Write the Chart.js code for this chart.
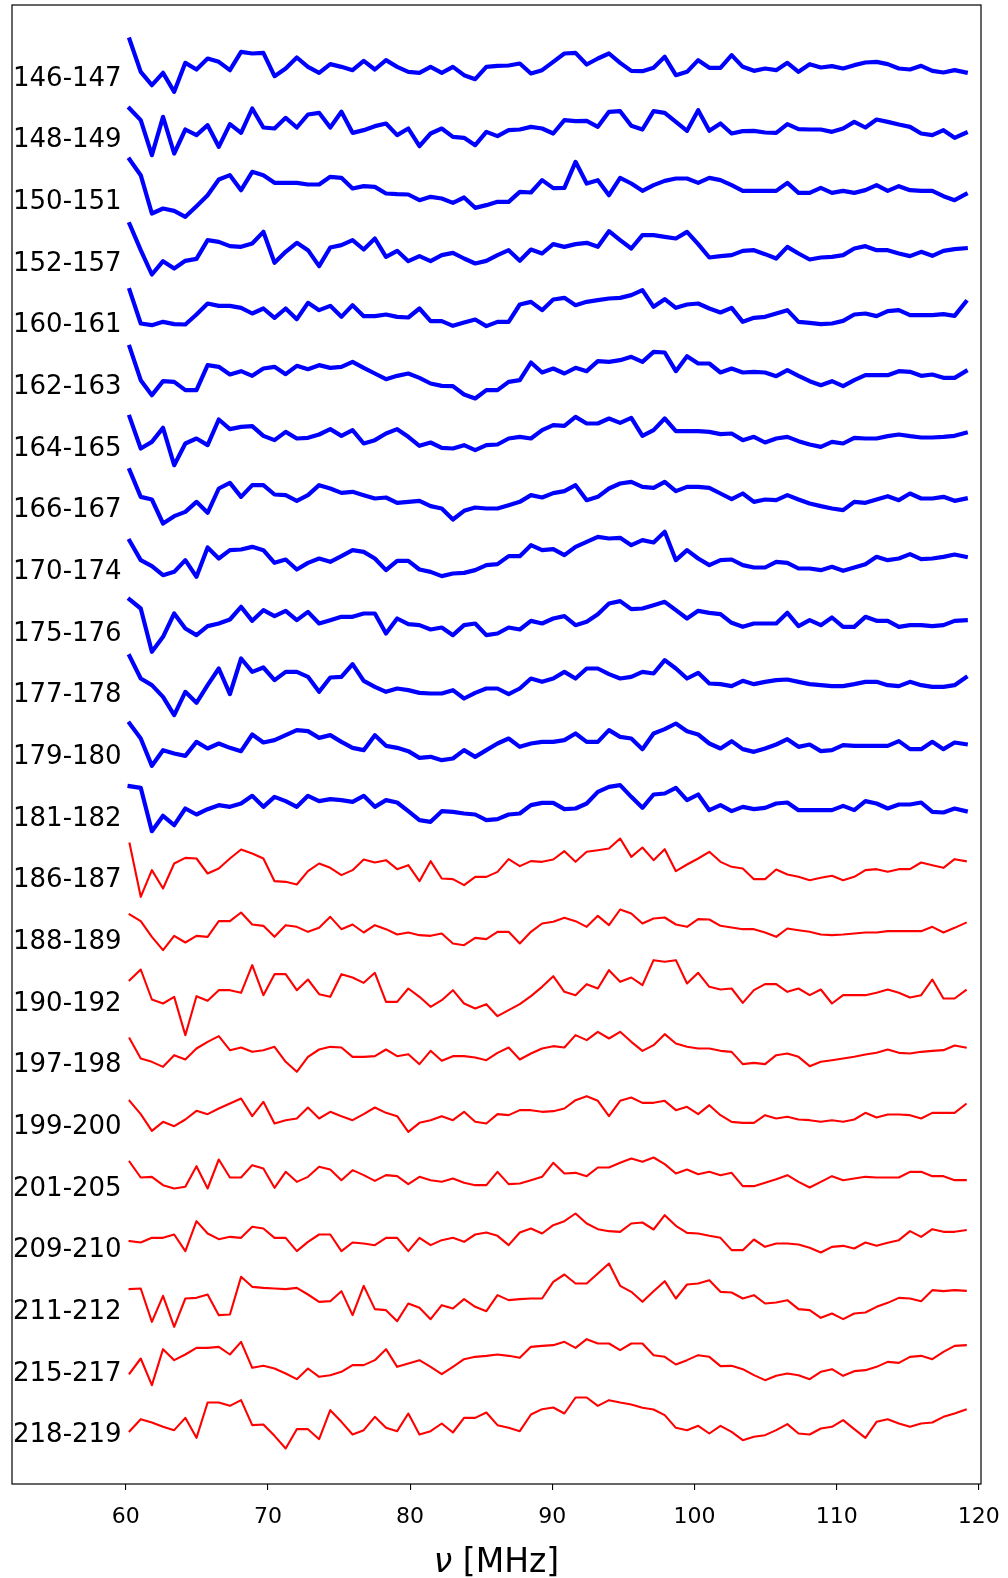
<!DOCTYPE html>
<html>
<head>
<meta charset="utf-8">
<script src="https://cdn.jsdelivr.net/npm/chart.js@4.4.1/dist/chart.umd.min.js"></script>
<style>
  html, body { margin: 0; padding: 0; background: #ffffff; }
  #wrap { width: 1008px; height: 1578px; }
</style>
</head>
<body>
<div id="wrap"><canvas id="chart" width="1008" height="1578"></canvas></div>
<script>
// Band labels, top to bottom
const bands = ['146-147', '148-149', '150-151', '152-157', '160-161', '162-163', '164-165',
  '166-167', '170-174', '175-176', '177-178', '179-180', '181-182', '186-187', '188-189',
  '190-192', '197-198', '199-200', '201-205', '209-210', '211-212', '215-217', '218-219'];

// Frequency grid of the spectra (MHz)
const FREQ_START = 60.27;
const FREQ_STEP = 0.7841;

// x-axis tick values (MHz)
const freqTicks = [60, 70, 80, 90, 100, 110, 120];

// Spectra per band (relative amplitude, one value per channel)
const b146_147 = [10.8, 1.1, -2.9, 0.8, -4.9, 3.8, 1.8, 5.1, 4.1, 1.6, 7.1, 6.6, 6.8, -0.2, 2.1, 5.4, 2.6, 0.8, 3.4, 2.6, 1.6, 4.4, 1.8, 4.6, 2.6, 1.1, 0.8, 2.6, 0.8, 2.6, 0.1, -1.1, 2.6, 2.9, 3.0, 3.6, 0.6, 1.6, 4.1,
  6.6, 6.8, 3.3, 5.1, 6.6, 3.8, 1.4, 1.3, 2.3, 5.6, 0.1, 1.1, 4.6, 2.3, 2.3, 6.1, 2.6, 1.4, 2.1, 1.6, 3.8, 1.1, 3.4, 2.4, 2.8, 2.1, 3.1, 3.9, 4.1, 3.4, 2.1, 1.8, 2.9, 1.4, 0.9, 1.6, 0.9];
const b148_149 = [8.6, 5.1, -5.4, 6.1, -4.9, 2.3, 0.6, 3.6, -2.9, 3.9, 1.3, 8.6, 2.9, 2.6, 5.8, 2.9, 6.8, 7.3, 2.9, 7.6, 1.3, 2.1, 3.3, 4.1, 0.6, 2.6, -2.7, 1.1, 2.6, 0.1, -0.2, -2.4, 1.6, 0.3, 2.1, 2.3, 3.1, 2.6, 1.1,
  5.1, 4.8, 4.9, 3.1, 7.6, 7.8, 3.4, 2.3, 7.8, 7.3, 4.6, 1.9, 8.1, 1.9, 4.1, 1.1, 1.8, 1.9, 1.4, 1.3, 3.9, 2.4, 2.3, 2.3, 1.6, 2.6, 4.6, 2.9, 5.3, 4.6, 3.8, 3.1, 1.1, 0.6, 2.1, -0.2, 1.3];
const b150_151 = [11.8, 7.1, -4.4, -2.9, -3.6, -5.4, -2.2, 1.1, 5.8, 7.1, 2.6, 8.1, 7.1, 4.8, 4.8, 4.8, 4.3, 4.3, 6.6, 6.3, 3.1, 3.8, 3.6, 1.6, 1.4, 1.3, -0.4, 0.6, 0.1, -1.2, 0.4, -2.7, -1.9, -0.9, -0.9, 2.1, 1.9, 5.6, 3.2,
  3.3, 11.1, 4.6, 5.6, 1.1, 6.3, 4.6, 2.4, 4.1, 5.4, 6.1, 6.1, 4.8, 6.3, 5.6, 4.1, 2.4, 2.4, 2.4, 2.4, 4.8, 1.8, 1.8, 3.3, 1.8, 2.4, 1.8, 2.6, 4.1, 2.4, 3.8, 2.6, 2.4, 2.4, 0.8, -0.4, 1.4];
const b152_157 = [10.9, 3.1, -4.2, -0.2, -2.4, -0.1, 0.5, 6.1, 5.6, 4.3, 4.1, 5.1, 8.6, -0.7, 2.6, 5.3, 3.1, -1.7, 3.9, 4.6, 6.1, 3.3, 6.6, 1.1, 2.9, -0.2, 1.3, -0.2, 1.6, 2.3, 0.6, -0.9, -0.1, 1.6, 3.1, -0.1, 3.3, 2.1, 4.9,
  4.1, 4.9, 5.3, 4.1, 8.8, 6.1, 3.6, 7.6, 7.6, 7.1, 6.6, 8.6, 4.9, 0.9, 1.3, 1.6, 2.9, 3.1, 1.9, 0.6, 4.1, 2.1, 0.3, 0.9, 1.1, 1.6, 3.6, 4.3, 3.1, 3.1, 2.1, 1.3, 2.6, 1.4, 2.9, 3.4, 3.7];
const b160_161 = [9.6, -0.4, -0.9, 0.1, -0.6, -0.7, 2.3, 5.6, 4.9, 4.9, 4.3, 2.6, 4.1, 1.3, 4.1, 0.9, 5.8, 3.6, 4.9, 1.6, 5.1, 1.8, 1.8, 2.3, 1.6, 1.4, 4.1, 0.3, 0.3, -1.1, -0.1, 0.8, -1.2, 0.1, 0.1, 5.3, 6.1, 3.6, 6.8,
  7.3, 5.1, 6.1, 6.6, 7.1, 7.3, 8.1, 9.6, 4.6, 6.9, 4.3, 5.3, 5.6, 4.1, 2.9, 4.3, 0.1, 1.3, 1.6, 2.6, 3.6, 0.1, -0.2, -0.6, -0.4, 0.4, 2.3, 2.6, 1.8, 3.3, 3.6, 2.1, 2.1, 2.1, 2.4, 1.9, 6.1];
const b162_163 = [11.1, 1.1, -3.4, 0.8, 0.6, -1.9, -1.9, 5.6, 5.1, 2.8, 3.8, 2.4, 4.6, 5.1, 2.9, 5.4, 4.4, 5.6, 4.8, 5.1, 6.6, 4.8, 3.1, 1.4, 2.4, 3.1, 1.8, 0.1, -0.6, -0.7, -3.2, -4.4, -1.9, -1.9, 0.6, 1.1, 6.4, 3.4, 4.6,
  3.1, 4.8, 3.8, 6.8, 6.6, 7.1, 8.1, 6.6, 9.6, 9.4, 3.8, 8.3, 6.1, 6.1, 3.4, 4.6, 3.4, 3.6, 3.4, 2.3, 4.1, 2.4, 0.8, -0.4, 0.8, -0.7, 1.1, 2.6, 2.6, 2.6, 3.8, 3.6, 2.4, 2.8, 1.8, 1.8, 3.8];
const b164_165 = [8.6, -0.9, 1.1, 5.3, -5.9, 0.6, 2.1, 0.1, 7.8, 4.9, 5.6, 5.8, 2.9, 1.6, 4.1, 2.1, 2.3, 3.3, 4.9, 2.9, 4.6, 0.6, 1.6, 3.6, 4.9, 2.6, -0.1, 0.9, -0.7, -0.9, 0.1, -1.4, 0.1, 0.3, 2.1, 2.6, 2.1, 4.6, 6.1,
  5.9, 8.6, 6.6, 6.6, 8.1, 6.8, 8.3, 2.9, 4.6, 8.1, 4.3, 4.3, 4.3, 4.1, 3.4, 3.6, 1.6, 2.6, 0.9, 2.1, 2.6, 1.3, 0.3, -0.4, 1.1, 0.6, 2.3, 2.1, 2.1, 2.8, 3.3, 2.8, 2.4, 2.4, 2.6, 2.9, 3.8];
const b166_167 = [11.1, 3.1, 2.3, -4.9, -2.7, -1.4, 1.6, -1.7, 5.6, 7.3, 3.1, 6.6, 6.6, 3.8, 3.6, 1.9, 3.6, 6.6, 5.6, 4.3, 4.6, 3.6, 2.6, 2.9, 1.3, 1.6, 1.9, 0.3, -0.4, -3.7, -1.1, -0.1, -0.4, -0.4, 0.6, 1.6, 3.6, 2.9, 4.2,
  4.8, 6.6, 2.1, 3.1, 5.6, 7.1, 7.6, 6.1, 5.8, 7.6, 4.8, 6.1, 6.1, 5.8, 4.1, 2.4, 4.1, 1.6, 2.3, 2.1, 3.6, 2.3, 1.1, 0.3, -0.4, -0.9, 1.6, 1.3, 2.3, 3.3, 2.1, 4.1, 2.6, 2.6, 3.1, 1.9, 2.6];
const b170_174 = [8.4, 2.6, 0.8, -1.9, -0.9, 2.6, -2.4, 6.4, 3.1, 5.6, 5.8, 6.6, 5.6, 1.8, 2.8, -0.2, 1.8, 3.1, 2.1, 3.8, 5.6, 5.1, 3.1, -0.4, 2.4, 2.4, -0.2, -0.9, -2.2, -1.4, -1.2, -0.4, 1.1, 1.4, 3.8, 3.8, 7.1, 5.6, 5.9,
  4.1, 6.6, 8.1, 9.6, 9.1, 9.3, 7.1, 8.6, 7.9, 11.1, 2.6, 5.6, 3.1, 1.1, 2.6, 2.8, 1.1, 0.4, 0.4, 2.1, 1.8, 0.1, 0.1, -0.4, 0.6, -0.6, 0.4, 1.4, 3.6, 2.6, 3.1, 4.4, 2.9, 3.1, 3.6, 4.3, 3.6];
const b175_176 = [9.3, 6.6, -6.4, -1.9, 5.1, 0.6, -1.4, 1.3, 2.1, 3.3, 7.1, 2.9, 6.1, 4.3, 5.9, 3.1, 5.6, 2.1, 3.1, 4.1, 4.1, 5.1, 5.1, -0.9, 3.6, 1.9, 1.6, 0.3, 0.9, -1.4, 1.6, 2.1, -1.4, -0.9, 0.9, 0.3, 2.9, 2.1, 3.6,
  4.3, 1.6, 2.6, 4.9, 8.1, 8.8, 6.4, 6.6, 7.6, 8.6, 6.1, 3.6, 5.9, 5.3, 4.9, 2.3, 1.1, 2.1, 2.1, 2.1, 5.3, 1.3, 3.1, 1.6, 3.9, 1.1, 1.1, 4.1, 2.9, 2.9, 1.1, 1.6, 1.6, 1.3, 1.6, 2.9, 3.1];
const b177_178 = [10.8, 4.1, 2.1, -1.4, -6.9, 0.1, -3.2, 2.1, 7.1, -0.6, 10.1, 6.1, 7.4, 3.6, 6.1, 6.1, 4.6, 0.1, 4.4, 4.6, 8.4, 3.4, 1.6, 0.1, 1.1, 0.6, -0.2, -0.4, -0.4, 0.6, -1.9, -0.2, 1.1, 1.1, -0.6, 1.1, 4.1, 3.1, 4.1,
  6.1, 4.1, 7.1, 7.1, 5.4, 4.1, 4.6, 6.1, 5.6, 9.6, 7.1, 4.1, 5.8, 2.6, 2.4, 1.8, 3.4, 2.4, 3.1, 3.6, 3.8, 3.1, 2.4, 2.1, 1.8, 1.8, 2.4, 3.1, 3.1, 2.1, 1.8, 3.1, 2.1, 1.6, 1.6, 2.1, 4.4];
const b179_180 = [9.1, 4.6, -3.6, 1.1, 0.1, -0.6, 3.6, 1.6, 3.1, 1.8, 0.8, 5.8, 3.4, 4.1, 5.6, 7.1, 6.8, 4.8, 5.6, 3.6, 1.8, 1.1, 5.6, 2.4, 1.8, 0.8, -1.2, -0.9, -1.9, -1.4, 1.1, -0.9, 1.1, 3.1, 4.6, 2.1, 3.1, 3.6, 3.6,
  4.1, 6.1, 3.6, 3.6, 7.1, 5.1, 4.6, 1.4, 6.1, 7.4, 9.1, 6.8, 5.8, 3.1, 1.6, 3.8, 1.4, 0.6, 1.6, 2.8, 4.4, 2.1, 2.8, 0.8, 1.1, 2.6, 2.4, 2.4, 2.4, 2.4, 3.8, 1.4, 1.4, 3.6, 1.4, 3.4, 2.9];
const b181_182 = [8.8, 8.3, -4.7, -0.1, -2.9, 2.1, 0.3, 1.9, 3.1, 2.6, 3.6, 5.9, 2.6, 5.6, 4.3, 2.6, 5.9, 4.3, 4.9, 4.6, 4.1, 5.9, 2.6, 4.6, 3.9, 1.3, -1.4, -1.9, 1.3, 1.1, 0.6, 0.3, -1.4, -1.1, 0.3, 0.6, 3.1, 3.8, 3.8,
  1.9, 2.1, 3.6, 7.1, 8.6, 9.1, 5.6, 2.3, 6.3, 6.6, 8.3, 4.6, 6.3, 1.6, 3.1, 1.3, 2.6, 1.9, 2.3, 3.6, 3.9, 1.6, 1.6, 1.6, 1.6, 2.9, 1.6, 4.3, 3.6, 2.1, 3.3, 3.3, 3.9, 1.1, 0.9, 2.1, 1.3];
const b186_187 = [10.1, -5.9, 2.1, -3.4, 4.1, 5.8, 5.6, 1.1, 2.6, 5.6, 8.3, 7.1, 5.6, -1.2, -1.4, -2.2, 1.8, 4.1, 2.8, 0.6, 2.1, 5.3, 4.4, 5.1, 2.4, 3.6, -1.2, 4.8, -0.4, -0.6, -2.4, 0.1, 0.1, 1.6, 5.4, 3.3, 4.8, 4.6, 5.3,
  7.8, 4.6, 7.6, 8.1, 8.6, 11.6, 6.1, 8.9, 5.1, 8.4, 1.8, 3.8, 5.6, 7.6, 4.6, 3.1, 2.6, -0.6, -0.6, 2.3, 0.8, 0.1, -0.9, -0.2, 0.4, -0.9, 0.1, 2.1, 2.4, 1.6, 2.4, 2.4, 4.4, 3.6, 2.8, 5.4, 4.8];
const b188_189 = [7.3, 5.3, 0.6, -3.4, 0.9, -1.1, 0.9, 0.6, 5.3, 5.3, 7.9, 4.3, 3.9, 0.6, 4.1, 3.6, 2.1, 3.3, 6.6, 2.9, 4.3, 1.9, 4.1, 2.9, 1.3, 1.9, 1.1, 0.9, 1.6, -1.4, -1.9, 0.3, -0.1, 2.1, 2.1, -1.4, 2.1, 4.6, 5.1,
  6.3, 5.3, 3.6, 6.9, 4.1, 8.8, 7.6, 4.6, 6.1, 6.4, 4.3, 3.6, 5.9, 5.8, 3.9, 3.4, 2.9, 2.9, 1.9, 0.6, 3.1, 2.6, 2.1, 1.3, 1.1, 1.3, 1.6, 1.9, 1.9, 2.3, 2.3, 2.3, 2.3, 3.6, 1.9, 3.3, 4.8];
const b190_192 = [6.1, 9.3, 0.3, -0.9, 1.1, -10.4, 1.3, -0.1, 3.1, 3.1, 2.3, 10.6, 1.6, 7.9, 7.9, 3.1, 6.3, 1.9, 1.1, 7.9, 6.9, 5.3, 8.3, -0.4, -0.4, 3.6, 1.1, -1.9, 0.1, 3.1, -0.9, -2.4, -1.1, -4.7, -2.9, -1.1, 1.3, 4.1, 7.3,
  2.6, 1.6, 4.9, 3.6, 9.1, 5.6, 6.9, 4.6, 12.1, 11.6, 12.1, 5.1, 8.3, 4.1, 3.3, 3.6, -0.7, 3.1, 4.9, 4.9, 2.6, 3.6, 1.6, 3.3, -0.9, 1.6, 1.6, 1.6, 2.3, 3.3, 2.3, 0.9, 1.6, 6.3, 0.6, 0.6, 3.1];
const b197_198 = [7.1, 1.1, 0.1, -1.4, 2.1, 0.8, 4.1, 6.1, 7.8, 3.6, 4.4, 3.1, 3.6, 4.6, 0.1, -2.9, 1.6, 3.8, 4.6, 4.4, 1.6, 1.6, 1.8, 3.8, 1.8, 2.4, -0.6, 3.4, 0.4, 1.8, 1.8, 1.4, 0.6, 2.8, 4.4, 0.8, 2.6, 4.1, 4.8,
  4.4, 8.1, 6.6, 9.1, 7.1, 9.1, 6.1, 3.4, 5.1, 8.4, 5.6, 4.6, 4.1, 4.1, 3.4, 3.1, -0.6, -0.2, -0.6, 2.1, 2.6, 1.6, -1.2, 0.1, 0.6, 1.1, 1.6, 2.3, 2.8, 3.8, 2.8, 2.6, 3.1, 3.4, 3.6, 5.0, 4.4];
const b199_200 = [6.9, 2.9, -2.1, 0.6, -0.7, 1.3, 3.9, 2.9, 4.6, 6.1, 7.6, 2.3, 6.6, 0.1, 1.1, 1.6, 4.9, 1.6, 3.6, 2.3, 1.1, 2.9, 4.9, 3.3, 2.3, -2.4, 0.3, 1.1, 2.3, 1.1, 3.6, 0.6, 0.1, 2.9, 2.6, 4.1, 4.1, 3.6, 3.8,
  4.6, 7.1, 8.3, 6.9, 2.3, 6.9, 7.9, 6.3, 6.3, 6.9, 4.1, 5.1, 2.9, 5.6, 2.6, 0.6, 0.3, 0.3, 2.6, 1.6, 2.1, 1.3, 1.1, 0.6, 1.1, 0.6, 1.3, 3.3, 1.9, 2.8, 2.8, 2.6, 1.6, 3.3, 3.3, 3.3, 5.9];
const b201_205 = [7.1, 2.4, 2.6, 0.1, -0.9, -0.4, 5.8, -0.9, 7.8, 2.4, 2.4, 6.1, 5.1, -0.7, 4.1, 1.1, 2.6, 5.6, 4.8, 1.6, 4.6, 3.1, 1.4, 3.1, 2.8, 0.4, 2.6, 1.6, 1.1, 2.1, 0.8, 0.1, 0.1, 4.1, 0.4, 0.6, 1.6, 2.6, 6.8,
  3.6, 3.8, 2.8, 5.4, 5.4, 6.8, 8.1, 7.1, 8.4, 6.4, 3.6, 4.8, 3.4, 4.1, 3.1, 3.8, -0.2, -0.2, 0.8, 1.9, 3.1, 1.1, -0.6, 1.1, 2.8, 1.6, 2.1, 2.6, 2.4, 2.4, 2.4, 4.1, 4.1, 2.8, 2.8, 1.6, 1.6];
const b209_210 = [1.8, 1.4, 2.8, 2.8, 3.8, -1.2, 7.8, 4.1, 2.4, 3.1, 2.8, 6.1, 5.6, 2.8, 2.8, -1.2, 1.6, 3.8, 3.8, -1.2, 1.4, 1.1, 0.6, 2.8, 2.8, -1.2, 2.8, 0.6, 2.1, 2.8, 1.6, 3.8, 4.4, 3.4, 0.6, 4.4, 5.6, 4.1, 6.6,
  7.8, 10.1, 7.1, 5.4, 4.8, 4.6, 7.1, 7.4, 5.3, 9.6, 6.4, 4.3, 4.1, 3.4, 2.8, -0.9, -0.9, 2.3, 0.1, 1.1, 1.1, 0.8, -0.2, -1.6, 0.1, 0.4, -0.4, 1.4, 0.4, 1.3, 2.1, 4.8, 3.1, 5.4, 4.6, 4.6, 5.1];
const b211_212 = [5.9, 6.1, -3.9, 3.9, -5.4, 3.1, 3.3, 4.3, -1.9, -1.7, 9.6, 6.6, 6.3, 6.1, 5.9, 6.3, 4.3, 2.1, 2.3, 5.3, -1.9, 6.9, -0.1, -0.4, -3.7, 1.6, 0.3, -3.1, 1.1, 0.1, 2.9, 0.6, -0.7, 4.1, 2.6, 2.9, 3.1, 3.1, 8.1,
  10.3, 7.6, 7.6, 10.6, 13.6, 6.9, 5.1, 2.1, 5.3, 8.3, 3.1, 7.3, 7.6, 8.6, 5.1, 4.9, 3.1, 4.1, 1.6, 1.9, 2.6, -0.1, -0.4, -2.7, -1.4, -3.1, -1.4, -1.1, 0.6, 1.8, 3.3, 3.1, 2.3, 5.6, 5.3, 5.6, 5.4];
const b215_217 = [-0.9, 3.6, -4.4, 6.4, 3.1, 4.8, 6.8, 6.8, 7.1, 4.8, 8.6, 0.8, 1.4, 0.6, -0.9, -2.6, 0.6, -1.9, -1.4, -0.4, 1.6, 1.6, 3.1, 6.4, 1.1, 2.1, 3.1, 1.1, -1.1, 1.1, 3.4, 4.1, 4.4, 4.8, 4.4, 3.8, 7.1, 7.4, 7.6,
  8.6, 6.8, 9.4, 8.1, 8.1, 6.1, 8.1, 8.1, 4.6, 4.1, 1.8, 3.1, 4.6, 4.1, 1.3, 1.4, 0.4, -1.4, -2.9, -1.6, -0.9, -1.4, -2.6, -0.4, 0.4, -1.6, -0.2, 0.1, 1.1, 2.6, 2.3, 4.1, 4.4, 3.4, 5.6, 7.4, 7.6];
const b218_219 = [0.3, 3.9, 2.9, 1.6, 0.6, 4.3, -1.7, 8.9, 8.9, 7.9, 9.6, 2.1, 2.3, -1.1, -4.9, 0.9, 0.9, -2.1, 6.6, 3.1, -0.7, 0.6, 4.6, 1.3, 0.3, 5.6, -0.7, 0.3, 2.6, -0.1, 4.3, 4.3, 5.9, 2.1, 1.3, 0.3, 5.3, 6.9, 7.4,
  5.6, 10.4, 10.4, 7.9, 9.6, 8.9, 8.3, 7.3, 6.8, 5.1, 1.3, 0.6, 1.9, -0.4, 1.9, 0.1, -2.4, -1.4, -0.9, 0.6, 2.4, -0.4, -0.7, 1.1, 1.6, 3.6, 0.9, -1.7, 3.1, 3.9, 2.6, 1.6, 2.6, 2.9, 4.6, 5.6, 6.8];

const bandSpectra = [b146_147, b148_149, b150_151, b152_157, b160_161, b162_163, b164_165,
  b166_167, b170_174, b175_176, b177_178, b179_180, b181_182, b186_187, b188_189,
  b190_192, b197_198, b199_200, b201_205, b209_210, b211_212, b215_217, b218_219];

// Number of leading bands drawn with the heavy blue style
const BLUE_BANDS = 13;
// Vertical separation between consecutive spectra (value units)
const SPACING = 18.5;

const FONT = 'DejaVu Sans';

const datasets = bandSpectra.map((vals, i) => ({
  label: bands[i],
  data: vals.map((v, k) => ({ x: FREQ_START + k * FREQ_STEP, y: v - i * SPACING })),
  borderColor: i < BLUE_BANDS ? '#0000ff' : '#ff0000',
  borderWidth: i < BLUE_BANDS ? 4.2 : 2.1,
  pointRadius: 0,
  tension: 0,
  fill: false,
  borderJoinStyle: 'round',
  borderCapStyle: 'square',
  order: bands.length - i
}));

// Frame around the plotting area and the axis label with an italic nu
const framePlugin = {
  id: 'frame',
  afterDraw(chart) {
    const { ctx, chartArea: a } = chart;
    ctx.save();
    ctx.strokeStyle = '#000000';
    ctx.lineWidth = 1.2;
    ctx.strokeRect(a.left, a.top, a.right - a.left, a.bottom - a.top);

    const size = 33;
    const nu = 'ν';
    const rest = ' [MHz]';
    ctx.fillStyle = '#000000';
    ctx.textBaseline = 'alphabetic';
    ctx.font = 'italic ' + size + 'px "' + FONT + '"';
    const wNu = ctx.measureText(nu).width;
    ctx.font = size + 'px "' + FONT + '"';
    const wRest = ctx.measureText(rest).width;
    const cx = (a.left + a.right) / 2;
    const x0 = cx - (wNu + wRest) / 2;
    const baseY = 1572;
    ctx.font = 'italic ' + size + 'px "' + FONT + '"';
    ctx.textAlign = 'left';
    ctx.fillText(nu, x0, baseY);
    ctx.font = size + 'px "' + FONT + '"';
    ctx.fillText(rest, x0 + wNu, baseY);
    ctx.restore();
  }
};

new Chart(document.getElementById('chart'), {
  type: 'line',
  data: { datasets },
  options: {
    responsive: false,
    maintainAspectRatio: false,
    devicePixelRatio: 1,
    animation: false,
    events: [],
    layout: { padding: { left: 12, right: 27, top: 5, bottom: 0 } },
    plugins: { legend: { display: false }, tooltip: { enabled: false } },
    scales: {
      x: {
        type: 'linear',
        min: 52,
        max: 120.15,
        afterBuildTicks: (s) => { s.ticks = freqTicks.map(v => ({ value: v })); },
        afterFit: (s) => { s.height = 94; s.paddingLeft = 0; s.paddingRight = 0; },
        grid: { display: true, drawOnChartArea: false, drawTicks: true, tickLength: 6, color: '#000000', lineWidth: 1.1 },
        border: { display: false },
        ticks: { autoSkip: false, maxRotation: 0, padding: 14, color: '#000000', font: { family: FONT, size: 22 } }
      },
      y: {
        type: 'linear',
        min: -422.55,
        max: 21.15,
        afterBuildTicks: (s) => {
          s.ticks = bands.map((b, i) => ({ value: -(bands.length - 1 - i) * SPACING }));
        },
        afterFit: (s) => { s.width = 0; s.paddingTop = 0; s.paddingBottom = 0; },
        grid: { display: false, drawTicks: false },
        border: { display: false },
        ticks: {
          mirror: true,
          padding: 1,
          labelOffset: 3.5,
          autoSkip: false,
          color: '#000000',
          font: { family: FONT, size: 26 },
          callback: (value) => bands[Math.round(-value / SPACING)]
        }
      }
    }
  },
  plugins: [framePlugin]
});
</script>
</body>
</html>
